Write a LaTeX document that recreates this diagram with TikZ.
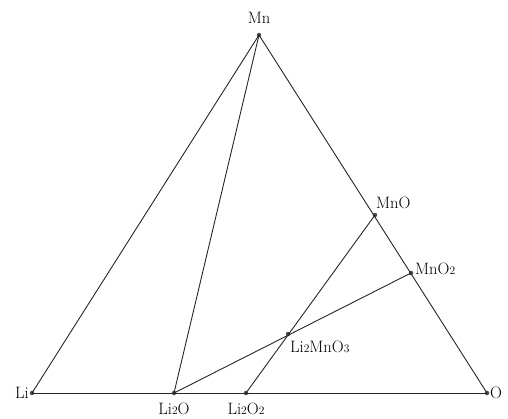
\documentclass[tikz,border=0pt]{standalone}
\usepackage{tikz}
\usetikzlibrary{calc}
\def\mycolorl{black!85}
\def\mycolord{black!70}
\def\sub#1{{\fontsize{11.5}{13}\selectfont #1}}

\begin{document}
\begin{tikzpicture}[x=1pt,y=-1pt]
\tikzstyle{edge}=[line width=0.9pt, color=\mycolorl]
\tikzstyle{pt}=[circle, fill=\mycolord, inner sep=0pt, minimum size=4.5pt]
\tikzstyle{lbl}=[inner sep=0pt, font=\fontsize{16.5}{18}\selectfont]

\useasboundingbox (0,0) rectangle (508,418);

\node (Li) [pt] at (32,393) {};
\node (O) [pt] at (487,393) {};
\node (Mn) [pt] at (259,35) {};
\node (LiO) [pt] at (174,393) {};
\node (LiOO) [pt] at (246,393) {};
\node (MnO) [pt] at (375,215) {};
\node (MnOO) [pt] at (411,273) {};
\node (LiMnO) [pt] at (288,334) {};

\draw [edge] (Li.center) -- (O.center);
\draw [edge] (Li.center) -- (Mn.center);
\draw [edge] (Mn.center) -- (O.center);
\draw [edge] (Mn.center) -- (LiO.center);
\draw [edge] (LiO.center) -- (MnOO.center);
\draw [edge] (LiOO.center) -- (MnO.center);

\node (A) [lbl, anchor=east, xshift=-3pt] at (Li) {Li};
\node (B) [lbl, anchor=west, xshift=3pt] at (O) {O};
\node (C) [lbl, anchor=south, yshift=11pt] at (Mn) {Mn};
\node (D) [lbl, anchor=north, yshift=-10pt] at (LiO) {Li\sub{2}O};
\node (E) [lbl, anchor=north, yshift=-10pt] at (LiOO) {Li\sub{2}O\sub{2}};
\node (F) [lbl, anchor=south west, xshift=1pt, yshift=6pt] at (MnO) {MnO};
\node (G) [lbl, anchor=west, xshift=4pt, yshift=4pt] at (MnOO) {MnO\sub{2}};
\node (H) [lbl, anchor=north west, xshift=2pt, yshift=-7pt] at (LiMnO) {Li\sub{2}MnO\sub{3}};

\end{tikzpicture}
\end{document}
